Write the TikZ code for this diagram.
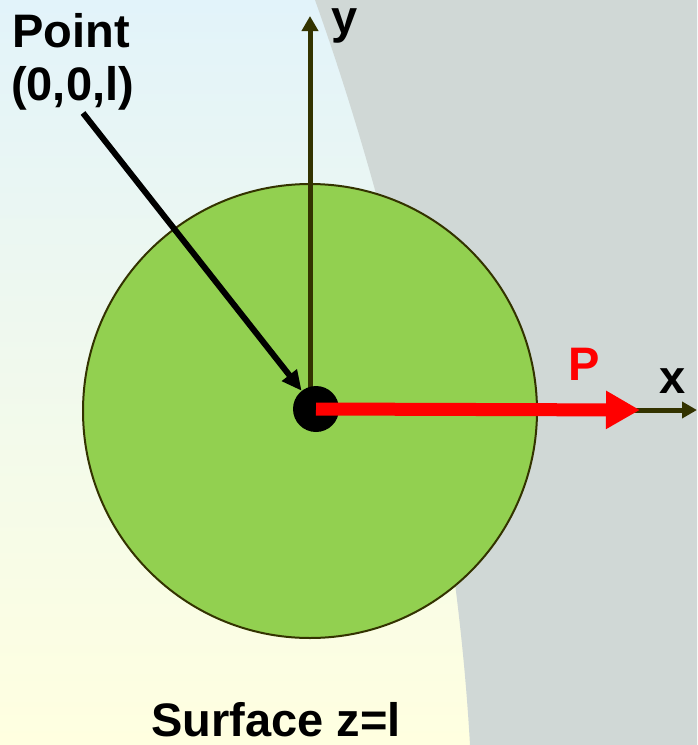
\documentclass[tikz,border=0pt]{standalone}
\usepackage{fontspec}
\setmainfont{Liberation Sans}
\usetikzlibrary{arrows.meta}
\definecolor{bgtop}{HTML}{E2F3FA}
\definecolor{bgbot}{HTML}{FFFFE0}
\definecolor{shadow}{HTML}{D0D8D6}
\definecolor{disc}{HTML}{92D050}
\definecolor{axis}{HTML}{333300}
\tikzset{
  lbl/.style={font=\bfseries\fontsize{47}{49}\selectfont, inner sep=0pt},
  axisline/.style={draw=axis, line width=5pt, -{Triangle[length=15pt,width=16pt]}},
}
\begin{document}
\begin{tikzpicture}[x=1pt,y=-1pt]
\useasboundingbox (0,0) rectangle (697,745);
\shade[top color=bgtop, bottom color=bgbot] (0,0) rectangle (697,745);
\fill[shadow] (315,0) .. controls (390,210) and (455,480) .. (470,745) -- (697,745) -- (697,0) -- cycle;
\node[circle, fill=disc, draw=axis, line width=2pt, minimum size=454pt, inner sep=0pt] (disc) at (310,411) {};
\coordinate (yo) at (310,409);
\coordinate (ytip) at (310,16);
\draw[axisline] (yo) -- (ytip);
\coordinate (xs) at (620,410);
\coordinate (xtip) at (697,410);
\draw[axisline] (xs) -- (xtip);
\node[circle, fill=black, minimum size=46pt, inner sep=0pt] (o) at (316,409) {};
\coordinate (ptip) at (640,410);
\draw[red, line width=13pt, -{Triangle[length=34pt,width=36pt]}] (o.center) -- (ptip);
\node[lbl, anchor=base west] (pt) at (12,47) {Point};
\node[lbl, anchor=base west] (pc) at (11,100) {(0,0,l)};
\coordinate (ps) at (83,113);
\draw[line width=6pt, -{Triangle[length=20pt,width=18pt]}] (ps) -- (o);
\node[lbl, anchor=base west, text height=25pt, text depth=10pt] (ylab) at (331,33) {y};
\node[lbl, text=red, anchor=base west] (plab) at (568,380) {P};
\node[lbl, anchor=base west] (xlab) at (659,393) {x};
\node[lbl, anchor=base west, text depth=0pt] (surf) at (151,736) {Surface z=l};
\end{tikzpicture}
\end{document}
